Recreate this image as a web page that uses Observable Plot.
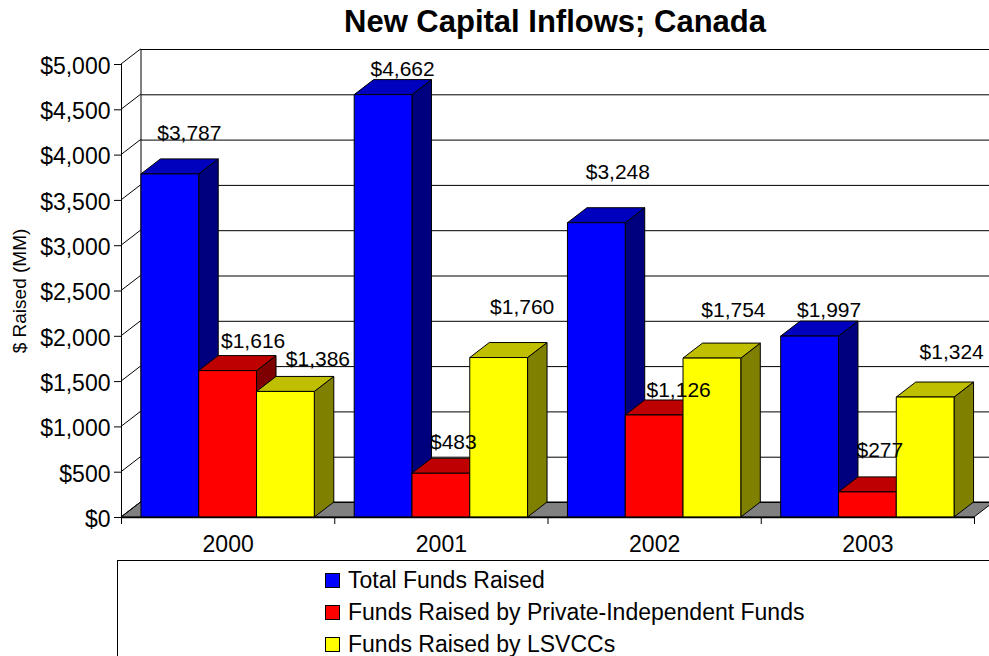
<!DOCTYPE html>
<html>
<head>
<meta charset="utf-8">
<script src="https://cdn.jsdelivr.net/npm/d3@7"></script>
<script src="https://cdn.jsdelivr.net/npm/@observablehq/plot@0.6"></script>
<style>
  html, body { margin: 0; padding: 0; width: 989px; height: 656px; overflow: hidden; background: #fff; }
  body { font-family: "Liberation Sans", Arial, sans-serif; color: #000; }
  #title { height: 45px; line-height: 43px; padding-left: 344px; font-size: 31px; font-weight: bold; white-space: nowrap; box-sizing: border-box; }
  #legend { position: relative; margin-left: 117px; width: 900px; height: 120px; border: 1px solid #000; box-sizing: border-box; }
  .entry { position: absolute; left: 207px; height: 32px; line-height: 32px; font-size: 23px; white-space: nowrap; }
  .swatch { position: absolute; left: 0; top: 9px; width: 15px; height: 15px; border: 1px solid #000; box-sizing: border-box; }
  .entry span { margin-left: 23px; }
</style>
</head>
<body>
<div id="title">New Capital Inflows; Canada</div>
<div id="chart"></div>
<div id="legend"></div>
<script>
const years = ["2000", "2001", "2002", "2003"];
const seriesNames = ["Total Funds Raised", "Funds Raised by Private-Independent Funds", "Funds Raised by LSVCCs"];
const totalFunds = [3787, 4662, 3248, 1997];
const privateFunds = [1616, 483, 1126, 277];
const lsvccFunds = [1386, 1760, 1754, 1324];
const yTicks = [0, 500, 1000, 1500, 2000, 2500, 3000, 3500, 4000, 4500, 5000];

// Face colours per series: front, top, side
const faceColors = [
  ["#0000ff", "#0000bf", "#00007f"],
  ["#ff0000", "#bf0000", "#7f0000"],
  ["#ffff00", "#bfbf00", "#7f7f00"]
];

// Pixel nudges of each value label away from its bar's top centre, by series then year
const labelNudgeX = [[19, 19, 21, 19], [25, 12, 24, 12], [32, 23, 21, 26]];
const labelNudgeY = [[-41, -26, -51, -26], [-30, -31, -25, -42], [-33, -51, -48, -45]];

const depthX = 19.5, depthY = 15;   // receding offset of the 3-D box
const slotGap = 0.0935, barSpan = 0.2710; // in units of one year's slot

const bars = years.flatMap((year, i) =>
  [totalFunds, privateFunds, lsvccFunds].map((values, s) => ({
    year, s,
    value: values[i],
    x1: i + slotGap + s * barSpan,
    x2: i + slotGap + (s + 1) * barSpan,
    nudgeX: labelNudgeX[s][i],
    nudgeY: labelNudgeY[s][i]
  }))
);

const polygon = (g, pts, fill) =>
  g.append("polygon")
    .attr("points", pts.map(p => p.join(",")).join(" "))
    .attr("fill", fill)
    .attr("stroke", "#000")
    .attr("stroke-width", 1)
    .attr("stroke-linejoin", "round");

// Grey floor of the box, projected back from the zero line
const floorMark = (index, {x, y}) => {
  const g = d3.create("svg:g");
  const y0 = y(0), xa = x(0), xb = x(4);
  polygon(g, [[xa, y0], [xa + depthX, y0 - depthY], [xb + depthX, y0 - depthY], [xb, y0]], "#808080");
  return g.node();
};

// Slanted gridlines across the left wall
const wallMark = (index, {x, y}) => {
  const g = d3.create("svg:g");
  for (const v of yTicks) {
    g.append("line")
      .attr("x1", x(0)).attr("y1", y(v))
      .attr("x2", x(0) + depthX).attr("y2", y(v) - depthY)
      .attr("stroke", "#000");
  }
  return g.node();
};

// Bars as extruded boxes, drawn left to right so nearer neighbours overlap
const boxMark = (index, {x, y}) => {
  const g = d3.create("svg:g");
  for (const b of bars) {
    const [front, top, side] = faceColors[b.s];
    const xa = x(b.x1), xb = x(b.x2), yt = y(b.value), yb = y(0);
    polygon(g, [[xb, yb], [xb + depthX, yb - depthY], [xb + depthX, yt - depthY], [xb, yt]], side);
    polygon(g, [[xa, yt], [xa + depthX, yt - depthY], [xb + depthX, yt - depthY], [xb, yt]], top);
    polygon(g, [[xa, yb], [xa, yt], [xb, yt], [xb, yb]], front);
  }
  return g.node();
};

const chart = Plot.plot({
  width: 989,
  height: 515,
  marginLeft: 121,
  marginRight: 15,
  marginTop: 19,
  marginBottom: 43,
  style: {fontFamily: "'Liberation Sans', Arial, sans-serif", color: "#000", background: "transparent"},
  x: {type: "linear", domain: [0, 4]},
  y: {domain: [0, 5000]},
  marks: [
    floorMark,
    Plot.ruleY(yTicks, {x1: 0, x2: 4.1, y: d => d, dx: depthX, dy: -depthY, stroke: "#000"}),
    Plot.ruleX([0], {y1: 0, y2: 5000, dx: depthX, dy: -depthY, stroke: "#000"}),
    wallMark,
    Plot.ruleX([0], {y1: 0, y2: 5000, stroke: "#000"}),
    boxMark,
    Plot.ruleY([0], {x1: 0, x2: 4, stroke: "#000", strokeWidth: 1.5}),
    Plot.axisY({ticks: yTicks, tickSize: 7, tickFormat: () => "", label: null, stroke: "#000"}),
    Plot.axisY({ticks: yTicks, tickSize: 0, tickPadding: 11, dy: 2, tickFormat: d3.format("$,"), fontSize: 23, label: null}),
    Plot.axisX({ticks: [0, 1, 2, 3, 4], tickSize: 7, tickFormat: () => "", label: null, stroke: "#000"}),
    Plot.axisX({ticks: [0.5, 1.5, 2.5, 3.5], tickSize: 0, tickPadding: 18, tickFormat: v => years[Math.floor(v)], fontSize: 23, label: null}),
    Plot.text(["$ Raised (MM)"], {frameAnchor: "left", textAnchor: "middle", rotate: -90, dx: -102, fontSize: 19, fill: "#000"}),
    ...bars.map(b => Plot.text([b], {
      x: d => (d.x1 + d.x2) / 2,
      y: "value",
      text: d => d3.format("$,")(d.value),
      dx: b.nudgeX,
      dy: b.nudgeY,
      fontSize: 21,
      fill: "#000"
    }))
  ]
});
document.getElementById("chart").appendChild(chart);

// Legend entries stacked inside the framed box below the plot
const legend = d3.select("#legend");
seriesNames.forEach((name, s) => {
  const entry = legend.append("div").attr("class", "entry").style("top", `${3 + s * 32}px`);
  entry.append("div").attr("class", "swatch").style("background", faceColors[s][0]);
  entry.append("span").text(name);
});
</script>
</body>
</html>
